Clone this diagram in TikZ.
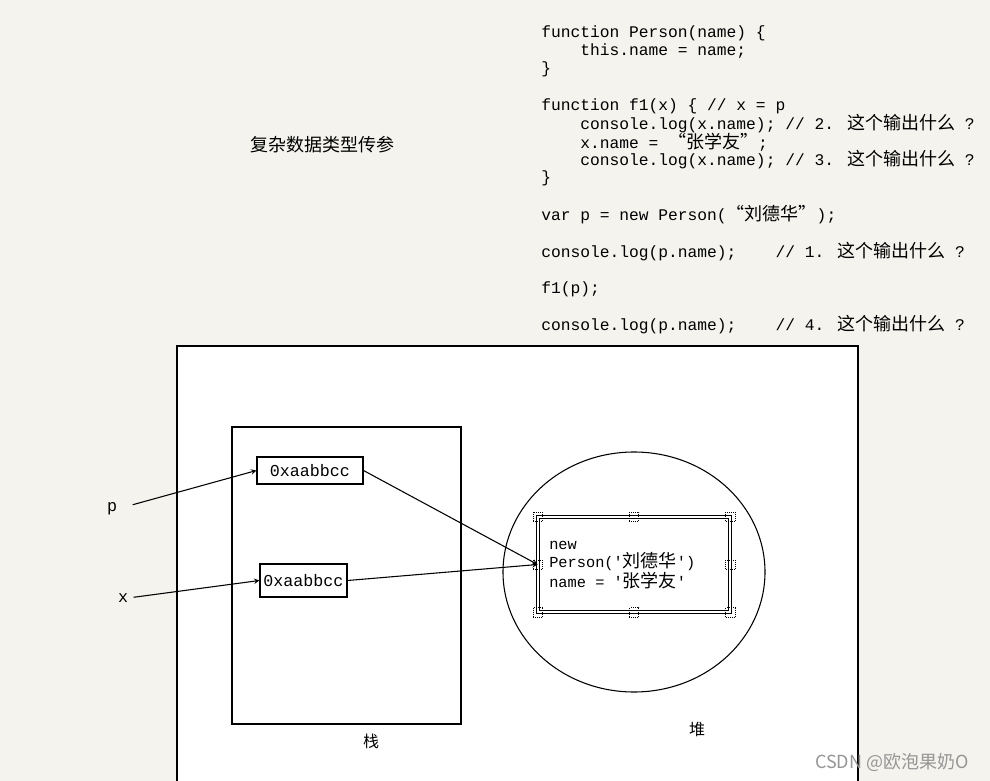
\documentclass[tikz,border=0pt]{standalone}
\usepackage{fontspec}
\usetikzlibrary{shapes.geometric}
\newfontfamily\codefont{Liberation Mono}
\newfontfamily\cjkfont{Noto Sans CJK SC}
\newcommand\zh[1]{{\cjkfont\fontsize{13.5}{14}\selectfont #1}}
\newcommand\zhs[1]{{\cjkfont\fontsize{12}{13}\selectfont #1}}
\definecolor{bgc}{RGB}{244,243,238}
\definecolor{wmc}{RGB}{150,150,150}
\tikzset{
  code/.style={font=\codefont\fontsize{12.2}{14}\selectfont, anchor=west, inner sep=0pt},
  memcell/.style={draw, line width=0.8pt, inner sep=0pt, font=\codefont\fontsize{12.5}{14}\selectfont},
  arr/.style={->, >=stealth, line width=0.8pt},
  handle/.style={draw, densely dotted, line width=0.5pt, minimum size=7pt, inner sep=0pt},
  lab/.style={inner sep=0pt},
}
\begin{document}
\begin{tikzpicture}[x=0.75pt, y=-0.75pt]
\fill[bgc] (0,0) rectangle (990,781);
\useasboundingbox (0,0) rectangle (990,781);
\clip (0,0) rectangle (990,781);
% outer frame
\draw[line width=0.8pt, fill=white] (177,346) rectangle (858,800);
% title
\node[lab] (title) at (322,145) {\zh{复杂数据类型传参}};
% code
\node[code] (c1)  at (541,33)  {function Person(name) \{};
\node[code] (c2)  at (541,51)  {\ \ \ \ this.name = name;};
\node[code] (c3)  at (541,69)  {\}};
\node[code] (c4)  at (541,106) {function f1(x) \{ // x = p};
\node[code] (c5)  at (541,124) {\ \ \ \ console.log(x.name); // 2. \zh{这个输出什么} ?};
\node[code] (c6)  at (541,142) {\ \ \ \ x.name = \zh{“张学友”};};
\node[code] (c7)  at (541,160) {\ \ \ \ console.log(x.name); // 3. \zh{这个输出什么} ?};
\node[code] (c8)  at (541,178) {\}};
\node[code] (c9)  at (541,215) {var p = new Person(\zh{“刘德华”});};
\node[code] (c10) at (541,252) {console.log(p.name);\ \ \ \ // 1. \zh{这个输出什么} ?};
\node[code] (c11) at (541,289) {f1(p);};
\node[code] (c12) at (541,325) {console.log(p.name);\ \ \ \ // 4. \zh{这个输出什么} ?};
% stack
\node[draw, line width=0.8pt, minimum width=171.75pt, minimum height=222.75pt, inner sep=0pt] (stack) at (346.5,575.5) {};
\node[memcell, minimum width=79.5pt, minimum height=20.25pt] (b1) at (310,470.5) {0xaabbcc};
\node[memcell, minimum width=65.25pt, minimum height=24.75pt] (b2) at (303.5,580.5) {0xaabbcc};
\node[lab] (stacklab) at (371,741) {\zhs{栈}};
% heap
\node[draw, ellipse, line width=0.8pt, minimum width=196.5pt, minimum height=180pt, inner sep=0pt] (heap) at (634,572) {};
\node[draw, double, double distance=1.2pt, line width=0.6pt, minimum width=144pt, minimum height=71.25pt, inner sep=0pt] (obj) at (634,564.5) {};
\node[code, font=\codefont\fontsize{11.5}{13.5}\selectfont, align=left] (objtxt) at (549,565)
  {new\\Person('\zh{刘德华}')\\name = '\zh{张学友}'};
\node[lab] (heaplab) at (697,729) {\zhs{堆}};
% handles
\node[handle] (h1) at (obj.north west) {};
\node[handle] (h2) at (obj.north) {};
\node[handle] (h3) at (obj.north east) {};
\node[handle] (h4) at (obj.east) {};
\node[handle] (h5) at (obj.south east) {};
\node[handle] (h6) at (obj.south) {};
\node[handle] (h7) at (obj.south west) {};
\node[handle] (h8) at (obj.west) {};
% variables
\node[lab, font=\codefont\fontsize{12.5}{14}\selectfont] (p) at (112,509) {p};
\node[lab, font=\codefont\fontsize{12.5}{14}\selectfont] (x) at (123,598) {x};
% arrows
\draw[arr, shorten <=12pt] (p.east) -- (b1.west);
\draw[arr, shorten <=4pt] (x.east) -- (b2.west);
\draw[arr] (b1.east) -- (obj.west);
\draw[arr] (b2.east) -- (obj.west);
% watermark
\node[lab, text=wmc, font=\cjkfont\fontsize{13.5}{15}\selectfont] (wm) at (892,762) {CSDN @欧泡果奶O};
\end{tikzpicture}
\end{document}
